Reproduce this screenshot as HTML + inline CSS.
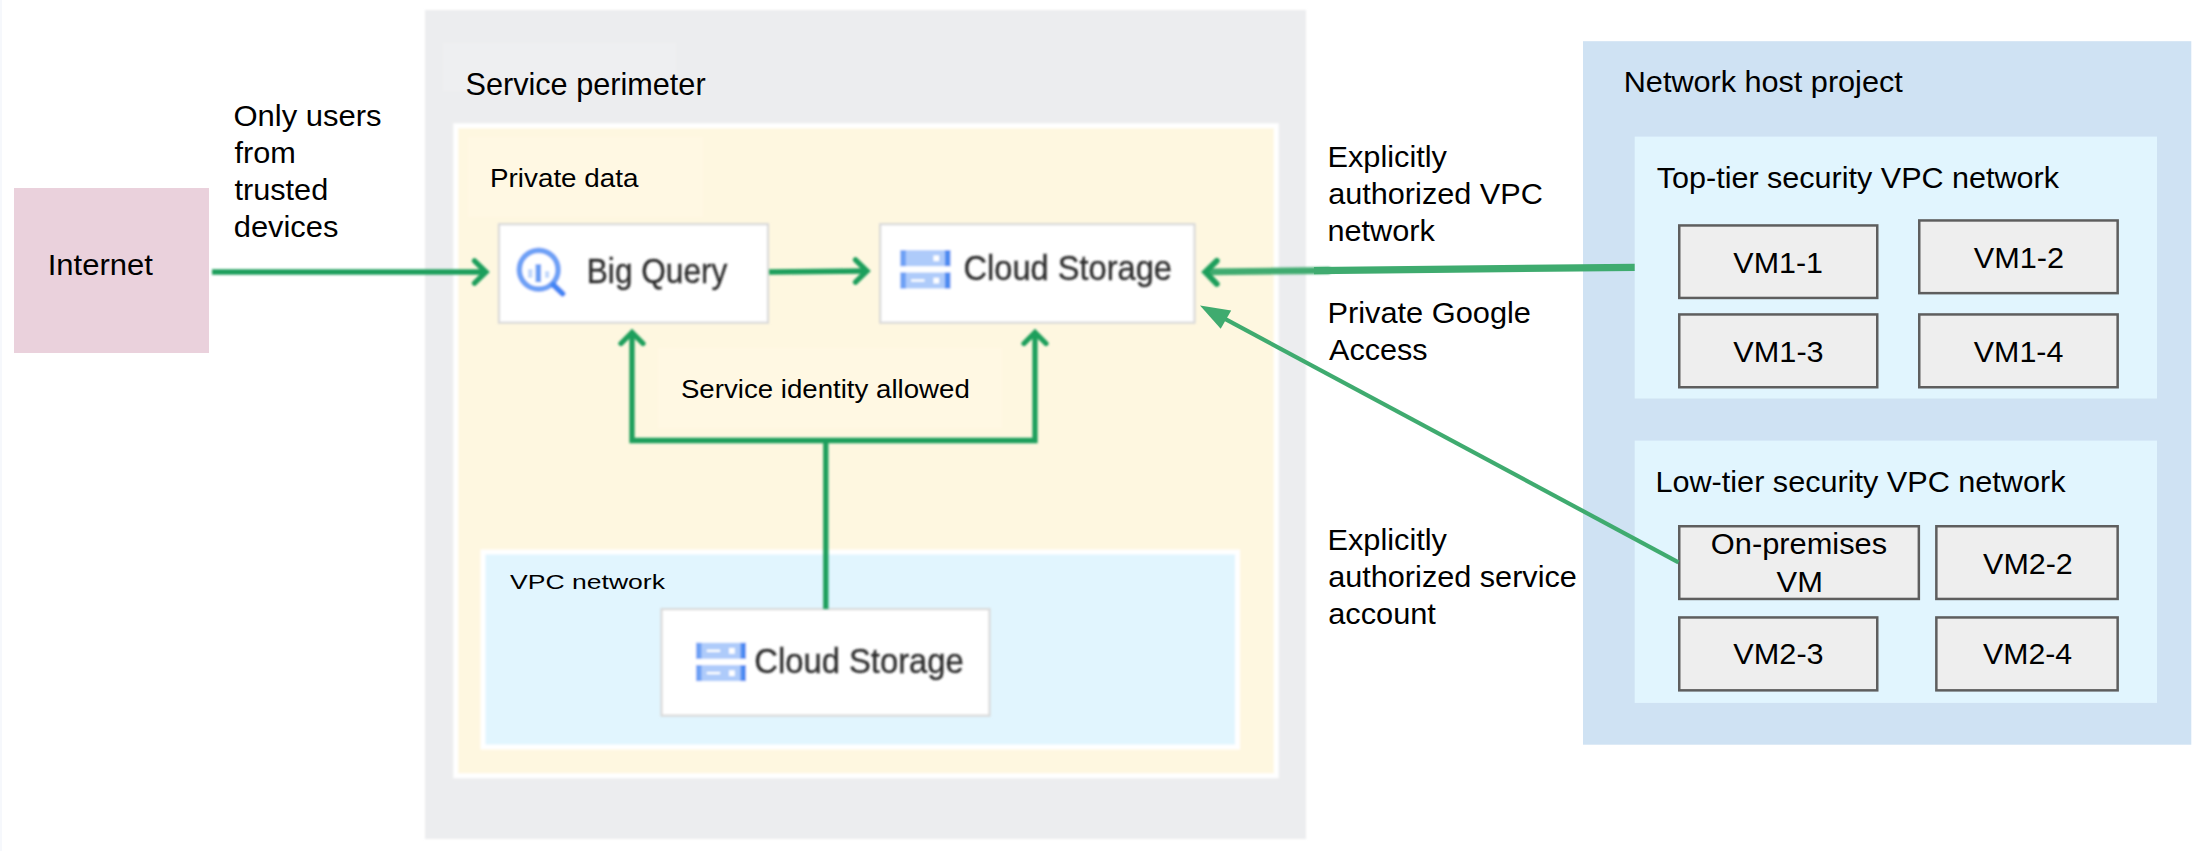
<!DOCTYPE html>
<html lang="en">
<head>
<meta charset="utf-8">
<title>Service perimeter diagram</title>
<style>
html,body{margin:0;padding:0;background:#fff;}
body{width:2203px;height:851px;overflow:hidden;font-family:"Liberation Sans",sans-serif;}
svg{display:block;}
text{font-family:"Liberation Sans",sans-serif;fill:#000;}
.vm{fill:#eeeeee;stroke:#5e5e5e;stroke-width:2.5;}
.gl{stroke:#1d9f5b;fill:none;}
.gr{stroke:#3fab6f;fill:none;}
.img{fill:#2b2b2b;stroke:#2b2b2b;stroke-width:0.3;}
</style>
</head>
<body>
<svg width="2203" height="851" viewBox="0 0 2203 851">
<defs>
<filter id="b1" filterUnits="userSpaceOnUse" x="0" y="0" width="2203" height="851"><feGaussianBlur stdDeviation="1.05"/></filter>
<filter id="b2" filterUnits="userSpaceOnUse" x="0" y="0" width="2203" height="851"><feGaussianBlur stdDeviation="1.0"/></filter>
<filter id="b4" filterUnits="userSpaceOnUse" x="0" y="0" width="2203" height="851"><feGaussianBlur stdDeviation="1.1"/></filter>
<filter id="b3" filterUnits="userSpaceOnUse" x="0" y="0" width="2203" height="851"><feGaussianBlur stdDeviation="1.1"/></filter>
</defs>
<rect x="0" y="0" width="2203" height="851" fill="#ffffff"/>
<rect x="0" y="0" width="2" height="851" fill="#f6f8fc"/>

<rect x="14" y="188" width="195" height="165" fill="#ead1dc"/>
<text transform="translate(47.65,275.10) scale(1.0349,1)" font-size="30">Internet</text>
<text transform="translate(233.45,125.80) scale(1.0337,1)" font-size="30">Only users</text>
<text transform="translate(234.49,162.70) scale(1.0220,1)" font-size="30">from</text>
<text transform="translate(234.49,199.60) scale(1.0220,1)" font-size="30">trusted</text>
<text transform="translate(233.71,236.50) scale(1.0302,1)" font-size="30">devices</text>
<g filter="url(#b3)">
<rect x="425" y="10" width="881" height="829" fill="#ecedef"/>
<rect x="443" y="43" width="233" height="48" fill="#eeeff1"/>
<rect x="455.75" y="125.75" width="820.500" height="650" fill="#fef7e0" stroke="#ffffff" stroke-width="5"/>
<rect x="468" y="137" width="235" height="80" fill="#fff8e3"/>
<rect x="658" y="348" width="344" height="80" fill="#fff8e3"/>
<rect x="483" y="552" width="754.500" height="195" fill="#e1f5fe" stroke="#ffffff" stroke-width="5"/>
</g>
<text transform="translate(465.49,95.40) scale(1.0051,1)" font-size="30.5">Service perimeter</text>
<text transform="translate(490.06,187.30) scale(1.0417,1)" font-size="26.7">Private data</text>
<text transform="translate(680.91,398.00) scale(1.0359,1)" font-size="26.7">Service identity allowed</text>
<text transform="translate(510.08,588.70) scale(1.2894,1)" font-size="20.6">VPC network</text>
<g filter="url(#b2)">
<rect x="499" y="224.200" width="269" height="98.500" fill="#ffffff" stroke="#d9d9d9" stroke-width="2.2"/>
<circle cx="538.700" cy="269.700" r="19.400" fill="none" stroke="#6ea1f6" stroke-width="5.700"/>
<rect x="535.500" y="264.200" width="5.600" height="18" fill="#6b9ff5"/>
<rect x="528" y="269.200" width="4.500" height="8.600" fill="#c3d8fb"/>
<rect x="545" y="271.200" width="4.200" height="6.600" fill="#c3d8fb"/>
<line x1="553.500" y1="285" x2="562.500" y2="293.600" stroke="#4285f4" stroke-width="6" stroke-linecap="round"/>
</g>
<g filter="url(#b1)"><text transform="translate(586.76,283.10) scale(0.9224,1)" font-size="34.3" class="img">Big Query</text></g>
<g filter="url(#b2)">
<rect x="880.200" y="224.200" width="314.300" height="98.500" fill="#ffffff" stroke="#d9d9d9" stroke-width="2.2"/>
<rect x="900.4" y="250.2" width="50" height="16" fill="#aecbfa"/>
<rect x="900.4" y="250.2" width="5.500" height="16" fill="#6ea1f5"/>
<rect x="944.9" y="250.2" width="5.500" height="16" fill="#4d8bf1"/>
<rect x="933.4" y="255.4" width="5.800" height="5.800" fill="#ffffff"/>
<rect x="900.4" y="272.5" width="50" height="16" fill="#aecbfa"/>
<rect x="900.4" y="272.5" width="5.500" height="16" fill="#6ea1f5"/>
<rect x="944.9" y="272.5" width="5.500" height="16" fill="#4d8bf1"/>
<rect x="933.4" y="277.7" width="5.800" height="5.800" fill="#ffffff"/>
<rect x="911.1" y="279.3" width="13.500" height="2.400" fill="#ffffff"/>
</g>
<g filter="url(#b1)"><text transform="translate(963.54,280.20) scale(0.9505,1)" font-size="34.3" class="img">Cloud Storage</text></g>
<g filter="url(#b2)">
<rect x="661.500" y="609.100" width="328" height="106.500" fill="#ffffff" stroke="#d9d9d9" stroke-width="2.2"/>
<rect x="696" y="642.8" width="50" height="16" fill="#aecbfa"/>
<rect x="696" y="642.8" width="5.500" height="16" fill="#6ea1f5"/>
<rect x="740.5" y="642.8" width="5.500" height="16" fill="#4d8bf1"/>
<rect x="729" y="648" width="5.800" height="5.800" fill="#ffffff"/>
<rect x="706.7" y="649.6" width="13.500" height="2.400" fill="#ffffff"/>
<rect x="696" y="665.1" width="50" height="16" fill="#aecbfa"/>
<rect x="696" y="665.1" width="5.500" height="16" fill="#6ea1f5"/>
<rect x="740.5" y="665.1" width="5.500" height="16" fill="#4d8bf1"/>
<rect x="729" y="670.3" width="5.800" height="5.800" fill="#ffffff"/>
<rect x="706.7" y="671.9" width="13.500" height="2.400" fill="#ffffff"/>
</g>
<g filter="url(#b1)"><text transform="translate(754.23,672.80) scale(0.9560,1)" font-size="34.3" class="img">Cloud Storage</text></g>
<g class="gl" stroke-width="5.300" filter="url(#b4)">
<line x1="212" y1="272" x2="486" y2="272"/>
<polyline points="474.500,260.800 486,272 474.500,283.200" stroke-linecap="round"/>
<line x1="769" y1="272" x2="866" y2="271"/>
<polyline points="855.500,259.800 867,271 855.500,282.200" stroke-linecap="round"/>
<polyline points="632,334 632,440.500 1035,440.500 1035,334"/>
<polyline points="621,343.500 632,332.500 643,343.500" stroke-linecap="round"/>
<polyline points="1024,343.500 1035,332.500 1046,343.500" stroke-linecap="round"/>
<line x1="825.800" y1="440" x2="825.800" y2="609"/>
</g>

<rect x="1583" y="41.200" width="608.300" height="703.500" fill="#cfe2f3"/>
<rect x="1634.700" y="136.600" width="522.300" height="261.900" fill="#e1f5fe"/>
<rect x="1634.700" y="440.600" width="522.300" height="262.300" fill="#e1f5fe"/>
<text transform="translate(1623.75,92.40) scale(1.0209,1)" font-size="30">Network host project</text>
<text transform="translate(1656.74,188.00) scale(1.0184,1)" font-size="30">Top-tier security VPC network</text>
<text transform="translate(1655.45,492.30) scale(1.0212,1)" font-size="30">Low-tier security VPC network</text>
<rect class="vm" x="1679.25" y="225.45" width="198" height="72.5"/>
<rect class="vm" x="1919.25" y="220.45" width="198.4" height="72.7"/>
<rect class="vm" x="1679.25" y="314.45" width="198" height="72.8"/>
<rect class="vm" x="1919.25" y="314.45" width="198.4" height="72.8"/>
<rect class="vm" x="1679.25" y="526.25" width="239.6" height="72.7"/>
<rect class="vm" x="1936.35" y="526.25" width="181.3" height="72.7"/>
<rect class="vm" x="1679.25" y="617.45" width="198" height="72.9"/>
<rect class="vm" x="1936.35" y="617.45" width="181.3" height="72.9"/>
<text transform="translate(1733.35,272.90) scale(1.0144,1)" font-size="30">VM1-1</text>
<text transform="translate(1973.84,267.90) scale(1.0220,1)" font-size="30">VM1-2</text>
<text transform="translate(1733.34,361.80) scale(1.0225,1)" font-size="30">VM1-3</text>
<text transform="translate(1973.85,361.80) scale(1.0132,1)" font-size="30">VM1-4</text>
<text transform="translate(1710.86,554.30) scale(1.0266,1)" font-size="30">On-premises</text>
<text transform="translate(1776.54,591.60) scale(1.0296,1)" font-size="30">VM</text>
<text transform="translate(1983.05,574.30) scale(1.0162,1)" font-size="30">VM2-2</text>
<text transform="translate(1733.34,664.40) scale(1.0225,1)" font-size="30">VM2-3</text>
<text transform="translate(1983.05,664.40) scale(1.0074,1)" font-size="30">VM2-4</text>
<line class="gr" x1="1634.700" y1="267.300" x2="1314" y2="270.650" stroke-width="7.200"/>
<g filter="url(#b2)">
<line class="gr" x1="1330" y1="270.500" x2="1208" y2="271.800" stroke-width="6.800"/>
<polyline class="gl" points="1216.800,260.800 1205.300,272 1216.800,284" stroke-width="5.800" stroke-linecap="round"/>
</g>
<line class="gr" x1="1678.500" y1="562.300" x2="1218" y2="315.200" stroke-width="4.200"/>
<polygon points="1200,305.500 1231.200,310.500 1220.700,328.700" fill="#3fab6f"/>
<text transform="translate(1327.44,167.00) scale(1.0246,1)" font-size="30">Explicitly</text>
<text transform="translate(1328.22,203.90) scale(1.0214,1)" font-size="30">authorized VPC</text>
<text transform="translate(1327.46,240.70) scale(1.0223,1)" font-size="30">network</text>
<text transform="translate(1327.43,322.60) scale(1.0262,1)" font-size="30">Private Google</text>
<text transform="translate(1329.00,359.70) scale(1.0199,1)" font-size="30">Access</text>
<text transform="translate(1327.44,549.90) scale(1.0246,1)" font-size="30">Explicitly</text>
<text transform="translate(1328.22,586.90) scale(1.0214,1)" font-size="30">authorized service</text>
<text transform="translate(1328.22,623.70) scale(1.0251,1)" font-size="30">account</text>
</svg>
</body>
</html>
